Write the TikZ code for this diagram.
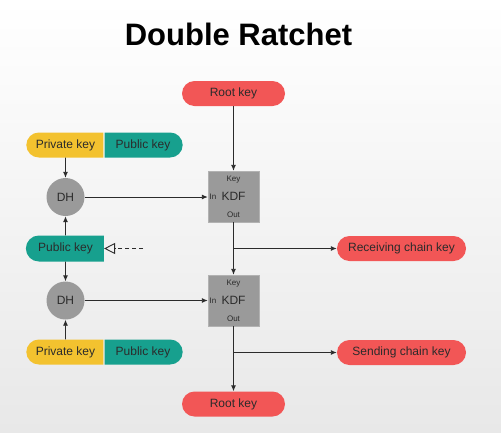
\documentclass[tikz,border=0pt]{standalone}
\usepackage{fontspec}
\setmainfont{Liberation Sans}
\usetikzlibrary{shapes.misc,arrows.meta}
\definecolor{keyred}{HTML}{F25656}
\definecolor{keyteal}{HTML}{17A08E}
\definecolor{keyyellow}{HTML}{F3C22F}
\definecolor{boxgray}{HTML}{9A9A9A}
\definecolor{inkdark}{HTML}{2B2B2B}
\begin{document}
\begin{tikzpicture}[x=1pt,y=-1pt,
  pill/.style={rounded rectangle, minimum height=25pt, inner sep=0pt, text=inkdark, font=\fontsize{12}{14}\selectfont},
  kdfbox/.style={rectangle, fill=boxgray, draw=gray!60, minimum size=51pt, inner sep=0pt, text=inkdark, font=\fontsize{12}{14}\selectfont},
  dhnode/.style={circle, fill=boxgray, minimum size=38pt, inner sep=0pt, text=inkdark, font=\fontsize{12}{14}\selectfont},
  small/.style={text=inkdark, font=\fontsize{8}{9}\selectfont, inner sep=0pt},
  link/.style={draw=inkdark, line width=0.9pt, -{Latex[length=6pt,width=5pt]}}]
\shade[top color=white, bottom color=black!9] (0,0) rectangle (501,432);
\node[font=\fontsize{31}{36}\selectfont\bfseries, anchor=base] (title) at (238.5,45) {Double Ratchet};
% KDF chain
\node[pill, fill=keyred, minimum width=103pt] (rootTop) at (233.5,93.5) {Root key};
\node[kdfbox] (kdfA) at (233.5,196.5) {KDF};
\node[small] (kdfAkey) at (233.5,180) {Key};
\node[small] (kdfAin) at (213,197) {In};
\node[small] (kdfAout) at (233.5,214.5) {Out};
\node[kdfbox] (kdfB) at (233.5,300.5) {KDF};
\node[small] (kdfBkey) at (233.5,284) {Key};
\node[small] (kdfBin) at (213,301) {In};
\node[small] (kdfBout) at (233.5,318.5) {Out};
\node[pill, fill=keyred, minimum width=129pt] (recv) at (401.5,248.5) {Receiving chain key};
\node[pill, fill=keyred, minimum width=129pt] (send) at (401.5,352.5) {Sending chain key};
\node[pill, fill=keyred, minimum width=103pt] (rootBot) at (233.5,404) {Root key};
% DH side
\node[pill, fill=keyyellow, minimum width=77pt, rounded rectangle east arc=none] (privA) at (65.5,145) {Private key};
\node[pill, fill=keyteal, minimum width=78pt, rounded rectangle west arc=none] (pubA) at (143,145) {Public key};
\node[dhnode] (dhA) at (65.5,197) {DH};
\node[pill, fill=keyteal, minimum width=78pt, minimum height=26pt, rounded rectangle east arc=none] (pubMid) at (65.5,248.5) {Public key};
\node[dhnode] (dhB) at (65.5,300.5) {DH};
\node[pill, fill=keyyellow, minimum width=77pt, rounded rectangle east arc=none] (privB) at (65.5,352) {Private key};
\node[pill, fill=keyteal, minimum width=78pt, rounded rectangle west arc=none] (pubB) at (143,352) {Public key};
\coordinate (peer) at (143,248.5);
\draw[link] (rootTop) -- (kdfA);
\draw[link] (kdfA) -- (kdfB);
\draw[link] (kdfA.south |- recv.west) -- (recv.west);
\draw[link] (kdfB) -- (rootBot);
\draw[link] (kdfB.south |- send.west) -- (send.west);
\draw[link] (privA) -- (dhA);
\draw[link] (pubMid) -- (dhA);
\draw[link] (pubMid) -- (dhB);
\draw[link] (privB) -- (dhB);
\draw[link] (dhA) -- (kdfA.west |- dhA);
\draw[link] (dhB) -- (kdfB.west |- dhB);
\draw[draw=inkdark, line width=0.9pt, dash pattern=on 4pt off 3pt, -{Triangle[open, length=11pt, width=11pt]}] (peer) -- (pubMid.east);
\end{tikzpicture}
\end{document}
